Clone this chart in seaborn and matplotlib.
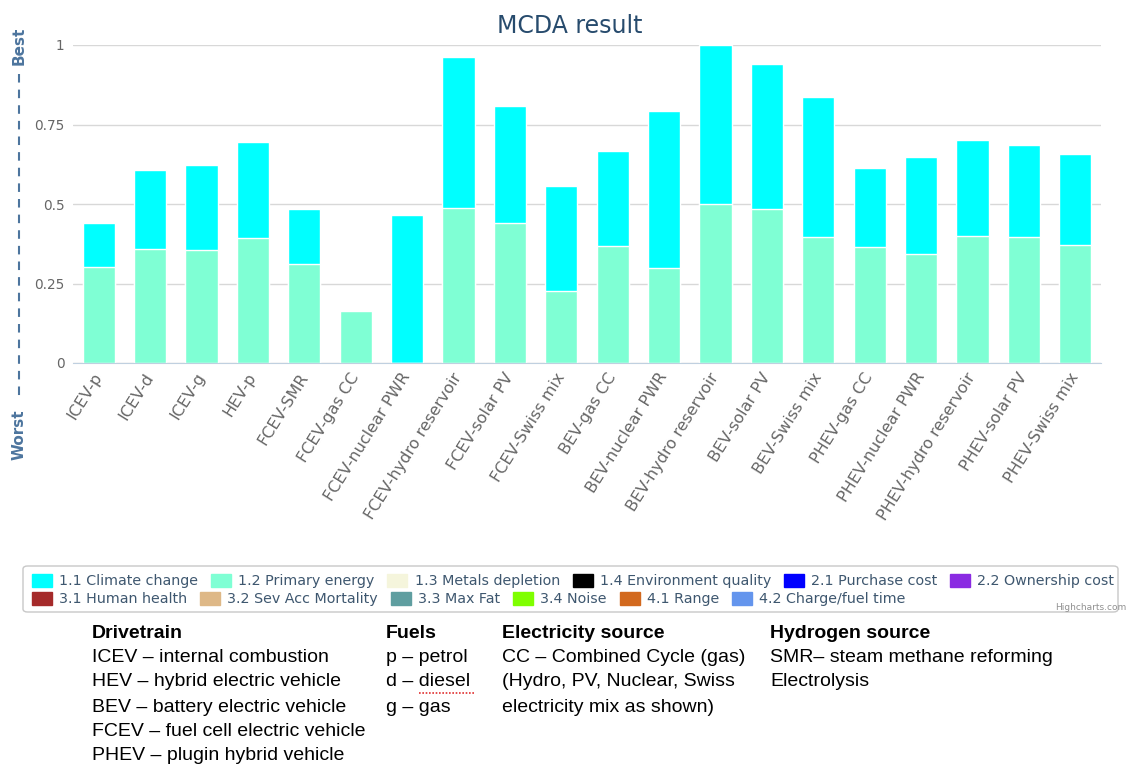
import numpy as np
import matplotlib
matplotlib.use("Agg")
import matplotlib.pyplot as plt
import seaborn as sns
from matplotlib.lines import Line2D
from matplotlib.patches import Patch, FancyBboxPatch

# data
cars = ["ICEV-p", "ICEV-d", "ICEV-g", "HEV-p", "FCEV-SMR", "FCEV-gas CC",
        "FCEV-nuclear PWR", "FCEV-hydro reservoir", "FCEV-solar PV", "FCEV-Swiss mix",
        "BEV-gas CC", "BEV-nuclear PWR", "BEV-hydro reservoir", "BEV-solar PV",
        "BEV-Swiss mix", "PHEV-gas CC", "PHEV-nuclear PWR", "PHEV-hydro reservoir",
        "PHEV-solar PV", "PHEV-Swiss mix"]
primary_energy = [0.303, 0.359, 0.355, 0.393, 0.311, 0.163, 0.0, 0.487, 0.441, 0.227,
                  0.367, 0.300, 0.501, 0.484, 0.396, 0.364, 0.344, 0.399, 0.396, 0.372]
climate_change = [0.138, 0.247, 0.268, 0.302, 0.173, 0.0, 0.465, 0.474, 0.366, 0.331,
                  0.300, 0.492, 0.499, 0.457, 0.440, 0.250, 0.303, 0.303, 0.290, 0.286]

legend_names = ["1.1 Climate change", "1.2 Primary energy", "1.3 Metals depletion",
                "1.4 Environment quality", "2.1 Purchase cost", "2.2 Ownership cost",
                "3.1 Human health", "3.2 Sev Acc Mortality", "3.3 Max Fat", "3.4 Noise",
                "4.1 Range", "4.2 Charge/fuel time"]
legend_colors = ["#00FFFF", "#7FFFD4", "#F5F5DC", "#000000", "#0000FF", "#8A2BE2",
                 "#A52A2A", "#DEB887", "#5F9EA0", "#7FFF00", "#D2691E", "#6495ED"]

yticks = [0, 0.25, 0.5, 0.75, 1]
ytick_labels = ["0", "0.25", "0.5", "0.75", "1"]

drivetrain = ["ICEV – internal combustion", "HEV – hybrid electric vehicle",
              "BEV – battery electric vehicle", "FCEV – fuel cell electric vehicle",
              "PHEV – plugin hybrid vehicle"]
fuels = ["p – petrol", "d – diesel", "g – gas"]
electricity = ["CC – Combined Cycle (gas)", "(Hydro, PV, Nuclear, Swiss",
               "electricity mix as shown)"]
hydrogen = ["SMR– steam methane reforming", "Electrolysis"]

#%%
W, H = 1126, 765
sns.set_style("white")
plt.rcParams['font.family'] = ['DejaVu Sans']

fig = plt.figure(figsize=(W / 100, H / 100), dpi=100)
ax = fig.add_axes([73 / W, 1 - 363 / H, (1101 - 73) / W, (363 - 45) / H])

# stacked: full height in cyan, primary energy drawn over it
total = np.array(primary_energy) + np.array(climate_change)
sns.barplot(x=cars, y=total, color=legend_colors[0], saturation=1, width=0.63,
            edgecolor="white", linewidth=1, errorbar=None, ax=ax, zorder=2)
sns.barplot(x=cars, y=primary_energy, color=legend_colors[1], saturation=1, width=0.63,
            edgecolor="white", linewidth=1, errorbar=None, ax=ax, zorder=3)

ax.set_xlim(-0.5, len(cars) - 0.5)
ax.set_ylim(0, 1)
ax.set_yticks(yticks)
ax.set_yticklabels(ytick_labels)
ax.yaxis.grid(True, color="#D8D8D8", linewidth=1)
ax.set_axisbelow(True)
for s in ["top", "right", "left"]:
    ax.spines[s].set_visible(False)
ax.spines["bottom"].set_color("#C0D0E0")
ax.spines["bottom"].set_zorder(5)
ax.tick_params(axis="y", length=0, pad=6, labelsize=9.8, labelcolor="#666666")

ax.set_xticks(range(len(cars)))
ax.set_xticklabels(cars, rotation=58, ha="right", va="center", rotation_mode="anchor",
                   fontsize=11.5, color="#666666")
ax.set_xticks(np.arange(-0.5, len(cars)), minor=True)
ax.tick_params(axis="x", which="major", length=0, pad=8)
ax.tick_params(axis="x", which="minor", length=6, color="#C0D0E0", width=1)
ax.set_xlabel("")
ax.set_ylabel("")

# title
fig.text(570 / W, 1 - 26 / H, "MCDA result", fontsize=17, color="#274b6d",
         ha="center", va="center")

# y axis title: Worst - - - Best
ycol = "#4d759e"
fig.text(19 / W, 1 - 46 / H, "Best", rotation=90, fontsize=11, fontweight="bold",
         color=ycol, ha="center", va="center")
fig.text(19 / W, 1 - 435 / H, "Worst", rotation=90, fontsize=11, fontweight="bold",
         color=ycol, ha="center", va="center")
fig.add_artist(Line2D([19 / W, 19 / W], [1 - 74 / H, 1 - 402 / H], color=ycol,
                      linewidth=1.5, dashes=(4.1, 3.4)))

# legend box + two rows
fig.add_artist(FancyBboxPatch((23 / W, 1 - 612 / H), (1118 - 23) / W, (612 - 566) / H,
                              boxstyle="round,pad=0,rounding_size=0.004",
                              transform=fig.transFigure, facecolor="none",
                              edgecolor="#C8C8C8", linewidth=1))
handles = [Patch(facecolor=c, edgecolor=c) for c in legend_colors]
for row, yy in enumerate([581, 599]):
    fig.legend(handles[row * 6:(row + 1) * 6], legend_names[row * 6:(row + 1) * 6],
               loc="center left", bbox_to_anchor=(32 / W, 1 - yy / H), ncol=6,
               frameon=False, fontsize=10.3, handlelength=1.4, handleheight=1.0,
               handletextpad=0.5, columnspacing=0.9, borderpad=0, borderaxespad=0,
               labelcolor="#3e576f")
fig.text(1.0, 1 - 608 / H, "Highcharts.com", fontsize=6.5, color="#909090",
         ha="right", va="center")

# abbreviations table below the chart
cols = [(92, "Drivetrain", drivetrain), (386, "Fuels", fuels),
        (502, "Electricity source", electricity), (770, "Hydrogen source", hydrogen)]
row_y = [633, 658, 682, 707, 731, 755]
for x, head, lines in cols:
    fig.text(x / W, 1 - row_y[0] / H, head, fontsize=14, fontweight="bold",
             family="Liberation Sans", color="black", va="center")
    for i, line in enumerate(lines):
        fig.text(x / W, 1 - row_y[i + 1] / H, line, fontsize=14,
                 family="Liberation Sans", color="black", va="center")
# spell-check underline under "diesel"
fig.add_artist(Line2D([419 / W, 475 / W], [1 - 693 / H, 1 - 693 / H], color="#e03030",
                      linewidth=1.2, linestyle=(0, (1, 1))))

plt.savefig("out.png", dpi=100)
